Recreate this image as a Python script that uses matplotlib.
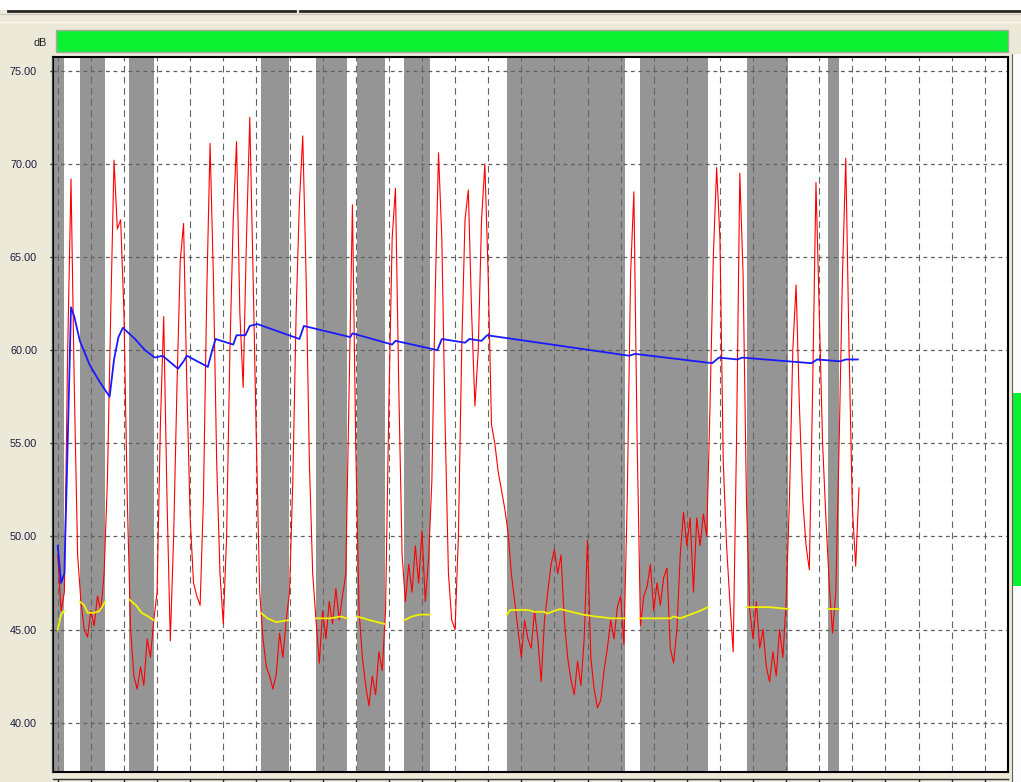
import numpy as np
import matplotlib.pyplot as plt
from matplotlib import font_manager
from matplotlib.patches import Rectangle
from matplotlib.lines import Line2D

# narrow font for the axis labels if it is there
names = {f.name for f in font_manager.fontManager.ttflist}
if "Liberation Sans Narrow" in names:
    label_font, label_size = "Liberation Sans Narrow", 9
else:
    label_font, label_size = "Liberation Sans", 7.8
plt.rcParams["font.family"] = [label_font, "DejaVu Sans"]

# sound level, one value every 3 s (dB)
level_db = [
    49, 46, 47, 60, 69.2, 58, 49, 46.5, 45, 44.6,
    46, 45.2, 46.8, 46, 48, 53, 62, 70.2, 66.5, 67,
    62, 52, 45, 42.5, 41.8, 43, 42, 44.5, 43.5, 45.5,
    47, 56, 61.8, 52, 44.4, 50, 58, 64.8, 66.8, 58,
    51, 47.5, 46.8, 46.3, 52, 63, 71.1, 64, 54, 48,
    45.3, 50, 60, 67, 71.2, 62, 58, 66, 72.5, 64,
    55, 47, 44.5, 43, 42.5, 41.8, 42.6, 44.8, 43.5, 45.5,
    47, 53, 62, 68, 71.5, 64, 54, 48, 45.5, 43.2,
    46, 44.5, 46.5, 45.3, 47.2, 45.5, 46.8, 48, 58, 67.8,
    55, 46, 43.5, 42, 40.9, 42.5, 41.5, 43.8, 42.8, 46,
    57, 66, 68.7, 58, 49, 46.5, 48.5, 47, 49.5, 47.5,
    50.3, 46.5, 48.8, 53, 63, 70.6, 66, 56, 48, 45.5,
    45, 50, 60, 67, 68.6, 62, 57, 60, 67, 70,
    64, 56, 55, 53.5, 52.5, 51.5, 50.2, 48, 46.5, 45,
    43.5, 45.5, 44.5, 44, 46, 44.5, 42.2, 45.5, 47, 48.5,
    49.3, 48, 49, 45.5, 43.5, 42.3, 41.5, 43.3, 42, 44.5,
    49.8, 43.5, 41.8, 40.8, 41.2, 42.8, 44, 45.5, 44.5, 46.2,
    46.8, 44.2, 52, 64, 68.5, 55, 45.2, 46.8, 47.3, 48.5,
    46, 47.5, 46.3, 47.8, 48.3, 44, 43.2, 45, 49, 51.3,
    49.5, 51, 47, 51, 49.5, 51.2, 50, 57, 65, 69.8,
    66, 54, 49.5, 46.5, 43.8, 55, 69.5, 64, 52, 46,
    44.5, 46.5, 44, 45, 43, 42.2, 43.8, 42.5, 45, 43.5,
    46.5, 52, 60, 63.5, 57, 52, 49.5, 48.2, 58, 69,
    62, 55, 51, 47.5, 44.8, 47, 55, 64, 70.3, 60,
    51.5, 48.4, 52.6,
]
level_t = np.arange(len(level_db)) * 3

# running Leq
leq_t = [0, 3, 6, 9, 12, 15, 20, 29, 38, 47,
         51, 55, 59, 70, 79, 88, 95, 109, 114, 117,
         136, 140, 143, 159, 162, 170, 174, 181, 219, 223,
         265, 267, 303, 306, 344, 348, 369, 373, 384, 389,
         518, 523, 593, 599, 616, 620, 683, 688, 709, 714, 725]
leq_db = [49.5, 47.5, 48, 55, 62.3, 61.8, 60.5, 59.2, 58.3, 57.5,
          59.5, 60.7, 61.2, 60.6, 60.0, 59.6, 59.7, 59.0, 59.4, 59.7,
          59.1, 60.0, 60.6, 60.3, 60.8, 60.8, 61.3, 61.4, 60.6, 61.3,
          60.7, 60.9, 60.3, 60.5, 60.0, 60.6, 60.4, 60.6, 60.5, 60.8,
          59.7, 59.8, 59.3, 59.6, 59.5, 59.6, 59.3, 59.5, 59.4, 59.5, 59.5]

# quiet periods (s) and background level inside them
quiet_start = [-3.5, 20.2, 64.5, 184.1, 233.9, 271.1, 313.7, 407.2, 527.4, 624.4, 697.8]
quiet_end = [5.7, 42.8, 87.2, 209.5, 262, 296.5, 337.2, 513.9, 589, 661.6, 707.7]
bg_t = [
    [0, 3, 5.7],
    [20, 24, 27, 33, 38, 43],
    [65, 71, 76, 82, 87],
    [184, 190, 198, 209],
    [234, 247, 256, 262],
    [271, 283, 296],
    [314, 321, 328, 337],
    [407, 410, 426, 432, 441, 443, 455, 469, 476, 487, 502, 514],
    [527, 555, 558, 564, 573, 582, 589],
    [624, 645, 662],
    [698, 708],
]
bg_db = [
    [45.0, 45.8, 46.0],
    [46.5, 46.3, 45.9, 45.9, 46.0, 46.5],
    [46.6, 46.3, 45.9, 45.7, 45.5],
    [45.9, 45.6, 45.4, 45.5],
    [45.6, 45.6, 45.7, 45.6],
    [45.7, 45.5, 45.3],
    [45.5, 45.7, 45.8, 45.8],
    [45.8, 46.05, 46.05, 45.95, 45.95, 45.85, 46.1, 45.9, 45.8, 45.7, 45.6, 45.6],
    [45.6, 45.6, 45.7, 45.6, 45.8, 46.0, 46.2],
    [46.2, 46.2, 46.1],
    [46.1, 46.1],
]
y_ticks = [40, 45, 50, 55, 60, 65, 70, 75]

W, H = 1021, 782
BEIGE = "#ece9d8"
GREEN = "#0cf032"
fig = plt.figure(figsize=(W / 100, H / 100), dpi=100, facecolor=BEIGE)


def box(x0, y0, x1, y1):
    # pixel box (from top-left) -> figure fraction rect
    return (x0 / W, 1 - y1 / H, (x1 - x0) / W, (y1 - y0) / H)


def rect(x0, y0, x1, y1, **kw):
    r = box(x0, y0, x1, y1)
    fig.add_artist(Rectangle(r[:2], r[2], r[3], transform=fig.transFigure, **kw))


def hline(y, x0, x1, color, lw):
    fig.add_artist(Line2D([x0 / W, x1 / W], [1 - y / H, 1 - y / H],
                          color=color, lw=lw, transform=fig.transFigure))


def vline(x, y0, y1, color, lw):
    fig.add_artist(Line2D([x / W, x / W], [1 - y0 / H, 1 - y1 / H],
                          color=color, lw=lw, transform=fig.transFigure))


# window strip at the top
rect(0, 0, W, 9.5, color="white", lw=0)
hline(10.8, 8, 295, "#262626", 2)
hline(10.8, 300, W, "#262626", 2)
hline(13.5, 0, W, "#c8c6bc", 0.8)
hline(22, 0, W, "#faf9f4", 0.8)

# level bar
rect(56, 30, 1008, 52, facecolor=GREEN, edgecolor="#a8a8a0", lw=1)
fig.text(47 / W, 1 - 43 / H, "dB", ha="right", va="center",
         fontsize=label_size, color="#202020")

# right side strip
rect(1012.5, 54, W, H, color="#fbfbfb", lw=0)
rect(1013, 393, W, 586, color=GREEN, lw=0)
vline(1011.5, 54, H, "#606060", 0.8)
vline(51.5, 57, 772, "#404040", 0.8)

ax = fig.add_axes(box(53, 57, 1008, 772))
ax.set_facecolor("white")

for s, e in zip(quiet_start, quiet_end):
    ax.axvspan(s, e, color="#959595", lw=0, zorder=1)

ax.plot(level_t, level_db, color="#ff0000", lw=0.8, zorder=2)
for t, v in zip(bg_t, bg_db):
    ax.plot(t, v, color="#f2f200", lw=1.3, zorder=3)
ax.plot(leq_t, leq_db, color="#1a1aff", lw=1.3, zorder=4)

ax.set_xlim(-4.3, 861)
ax.set_ylim(37.35, 75.74)
ax.set_xticks(np.arange(0, 841, 30))
ax.set_yticks(y_ticks)
ax.set_yticklabels([f"{v:.2f}" for v in y_ticks])
ax.tick_params(axis="y", length=2.5, width=1, color="#202020", pad=9,
               labelsize=label_size, labelcolor="#1c1c40")
ax.tick_params(axis="x", length=2.5, width=1, color="#202020", labelbottom=False)

ax.yaxis.grid(True, linestyle=(0, (3, 3)), color="#5e5e5e", lw=0.9)
ax.xaxis.grid(True, linestyle=(0, (6, 4)), color="#666666", lw=0.8)

for side in ["left", "top", "right"]:
    ax.spines[side].set_color("black")
    ax.spines[side].set_linewidth(1.5)
ax.spines["bottom"].set_position(("outward", 5))
ax.spines["bottom"].set_color("#303030")
ax.spines["bottom"].set_linewidth(1)
ax.axhline(37.35, color="black", lw=1.5, clip_on=False, zorder=5)

fig.savefig("out.png", dpi=100, facecolor=BEIGE)
